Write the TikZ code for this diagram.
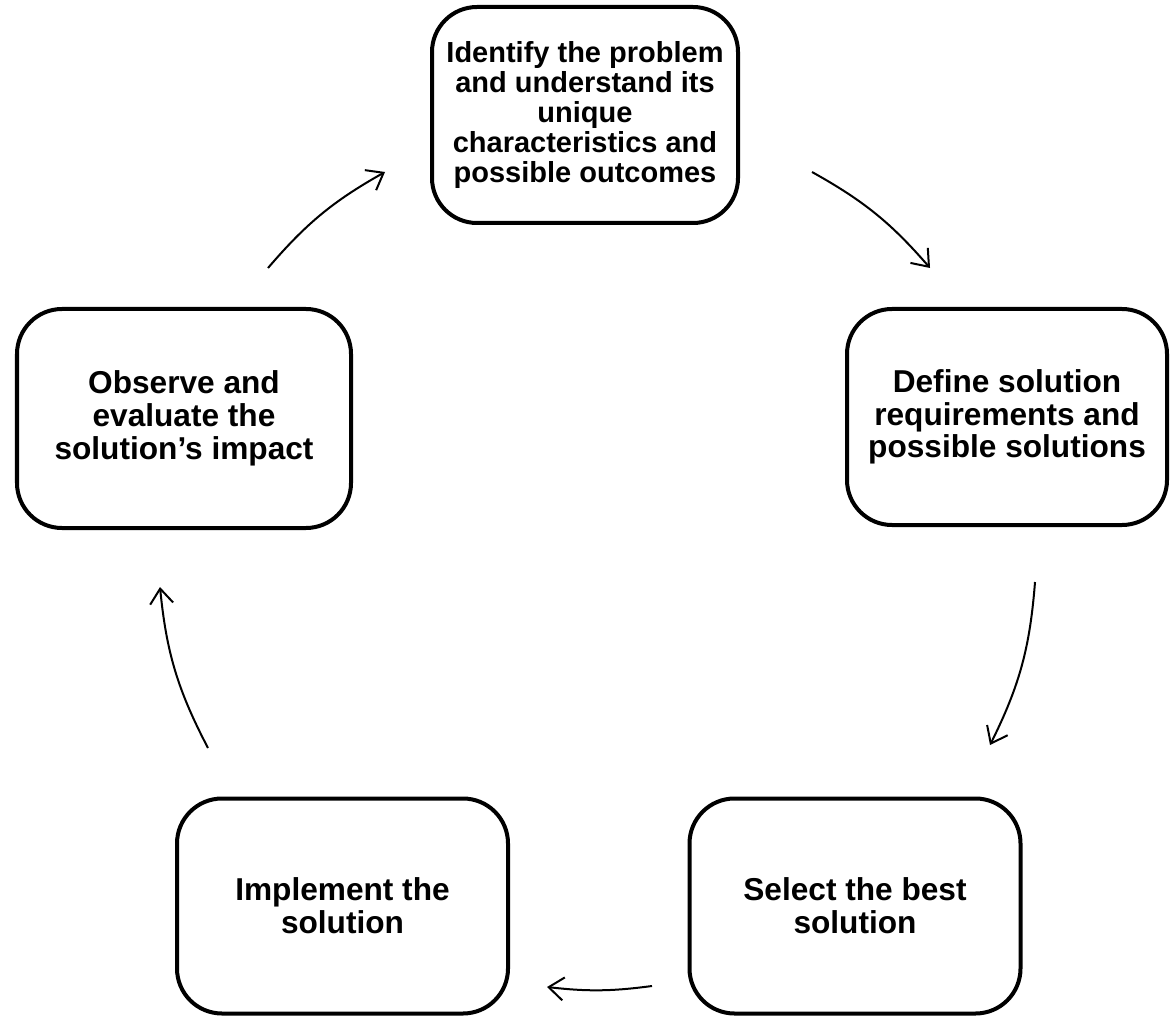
\documentclass[tikz,border=0pt]{standalone}
\usepackage{fontspec}
\setmainfont{Liberation Sans}
\usetikzlibrary{arrows.meta}

\begin{document}
\begin{tikzpicture}[
        stage/.style={draw, line width=0.08cm, rounded corners=0.9cm, align=center,
            inner sep=0pt, minimum height=4.32cm,
            font=\bfseries\fontsize{18}{18.6}\selectfont},
        flow/.style={line width=0.04cm, -{Straight Barb[length=0.3cm, width=0.46cm]}}
    ]
            \useasboundingbox (0,0) rectangle (23.42,20.34);

            \node[stage, minimum width=6.12cm, font=\bfseries\fontsize{16.5}{17}\selectfont] (ident) at (11.7,18.04)
                {Identify the problem\\and understand its\\unique\\characteristics and\\possible outcomes};
            \node[stage, minimum width=6.4cm] (define) at (20.14,12.0)
                {Define solution\\requirements and\\possible solutions};
            \node[stage, minimum width=6.62cm, minimum height=4.3cm] (select) at (17.1,2.22)
                {Select the best\\solution};
            \node[stage, minimum width=6.62cm, minimum height=4.3cm] (implement) at (6.85,2.22)
                {Implement the\\solution};
            \node[stage, minimum width=6.68cm, minimum height=4.38cm] (observe) at (3.68,11.97)
                {Observe and\\evaluate the\\solution’s impact};

            \coordinate (a1) at (16.24,16.9);  \coordinate (b1) at (18.6,14.98);
            \coordinate (a2) at (20.7,8.7);    \coordinate (b2) at (19.8,5.44);
            \coordinate (a3) at (13.04,0.62);  \coordinate (b3) at (10.94,0.6);
            \coordinate (a4) at (4.16,5.38);   \coordinate (b4) at (3.2,8.6);
            \coordinate (a5) at (5.36,14.98);  \coordinate (b5) at (7.7,16.9);
            \draw[flow] (a1) to[bend left=10] (b1);
            \draw[flow] (a2) to[bend left=11] (b2);
            \draw[flow] (a3) to[bend left=7] (b3);
            \draw[flow] (a4) to[bend left=11] (b4);
            \draw[flow] (a5) to[bend left=10] (b5);
        \end{tikzpicture}
\end{document}
